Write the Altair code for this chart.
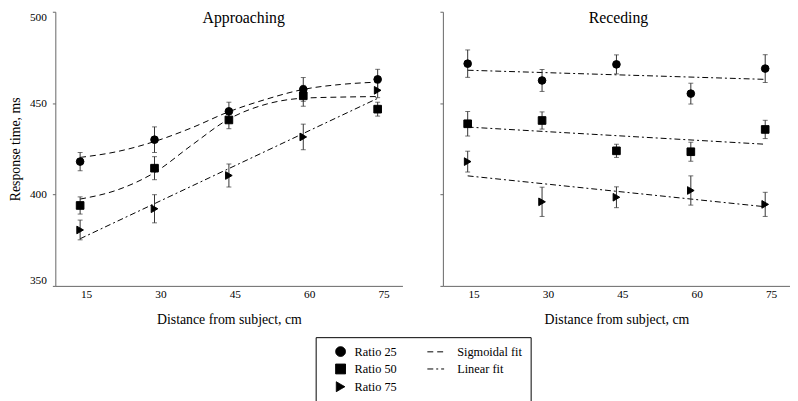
import altair as alt
import pandas as pd

# ---------------- data ----------------
distances = [15, 30, 45, 60, 75]
ratio_keys = ["Ratio 25", "Ratio 50", "Ratio 75"]
panel_titles = ["Approaching", "Receding"]

# Approaching: means and error half-widths (ms)
app_r25 = [418.0, 430.0, 445.5, 457.5, 463.0]
app_r25_err = [5.0, 7.0, 5.0, 6.5, 5.5]
app_r50 = [394.0, 414.4, 440.8, 454.0, 446.7]
app_r50_err = [4.7, 6.3, 4.8, 5.7, 3.8]
app_r75 = [380.6, 392.2, 410.4, 431.5, 457.0]
app_r75_err = [5.4, 7.7, 6.3, 7.0, 4.0]

# Receding
rec_r25 = [471.6, 462.4, 471.2, 455.2, 468.9]
rec_r25_err = [7.5, 6.0, 5.2, 5.7, 7.6]
rec_r50 = [438.7, 440.5, 423.9, 423.4, 435.6]
rec_r50_err = [6.7, 4.7, 3.6, 5.2, 5.0]
rec_r75 = [418.0, 396.0, 398.5, 402.2, 394.6]
rec_r75_err = [5.7, 8.0, 5.7, 8.0, 6.6]

# Fitted curves
sig_x = [15, 22.5, 30, 37.5, 45, 52.5, 60, 67.5, 75]
app_sig_r25 = [420.3, 423.5, 429.0, 436.5, 445.3, 452.1, 457.5, 460.2, 461.5]
app_sig_r50 = [397.5, 402.5, 412.0, 427.0, 441.3, 449.4, 452.7, 453.3, 453.6]
lin_x = [15, 75]
app_lin_r75 = [375.8, 452.6]
rec_lin_r25 = [468.0, 463.0]
rec_lin_r50 = [436.9, 427.5]
rec_lin_r75 = [410.2, 393.3]

fit_keys = ["Sigmoidal fit", "Linear fit"]
legend_order = ratio_keys + fit_keys

# ---------------- tables ----------------
pt_rows = []
for panel, series in [
    ("Approaching", [(app_r25, app_r25_err), (app_r50, app_r50_err), (app_r75, app_r75_err)]),
    ("Receding", [(rec_r25, rec_r25_err), (rec_r50, rec_r50_err), (rec_r75, rec_r75_err)]),
]:
    for key, (vals, errs) in zip(ratio_keys, series):
        for d, v, e in zip(distances, vals, errs):
            pt_rows.append({"panel": panel, "dist": d, "rt": v, "lo": v - e, "hi": v + e, "key": key})
pts = pd.DataFrame(pt_rows)

fit_rows = []
for panel, key, series, xs, ys in [
    ("Approaching", "Sigmoidal fit", "Ratio 25", sig_x, app_sig_r25),
    ("Approaching", "Sigmoidal fit", "Ratio 50", sig_x, app_sig_r50),
    ("Approaching", "Linear fit", "Ratio 75", lin_x, app_lin_r75),
    ("Receding", "Linear fit", "Ratio 25", lin_x, rec_lin_r25),
    ("Receding", "Linear fit", "Ratio 50", lin_x, rec_lin_r50),
    ("Receding", "Linear fit", "Ratio 75", lin_x, rec_lin_r75),
]:
    for xv, yv in zip(xs, ys):
        fit_rows.append({"panel": panel, "dist": xv, "rt": yv, "key": key, "series": series})
fits = pd.DataFrame(fit_rows)

FONT = "Liberation Serif"

shape_scale = alt.Scale(
    domain=legend_order,
    range=["circle", "square", "triangle-right", "M-3.2,0H0.2", "M-3.2,0H0.2"],
)
dash_scale = alt.Scale(domain=legend_order, range=[[1, 0], [1, 0], [1, 0], [6, 4], [6, 3, 2, 3]])
stroke_scale = alt.Scale(domain=legend_order, range=["black"] * 5)

legend_def = alt.Legend(
    title=None, orient="none", legendX=264, legendY=330, columns=2,
    strokeColor="black", fillColor="white", padding=8,
    symbolOffset=11, labelOffset=8, columnPadding=28, rowPadding=3,
    labelFont=FONT, labelFontSize=12.5, labelColor="black",
    symbolSize=100, symbolStrokeColor="black", symbolFillColor="black",
    symbolStrokeWidth=1,
)


def panel_chart(panel, first, title_x):
    p = pts[pts["panel"] == panel]
    f = fits[fits["panel"] == panel]
    x_axis = alt.Axis(
        values=distances, title="Distance from subject, cm", ticks=False, tickSize=0,
        labelOffset=6, labelPadding=3, titlePadding=13, grid=False, labelFlush=False,
        labelFontSize=11.5, titleFontSize=14,
    )
    if first:
        y_axis = alt.Axis(
            values=[350, 400, 450, 500], title="Response time, ms", tickSize=3,
            labelPadding=6, titlePadding=7, grid=False, labelFlush=True,
            labelFontSize=11.5, titleFontSize=14,
        )
    else:
        y_axis = alt.Axis(values=[350, 400, 450, 500], title=None, tickSize=3,
                          labels=False, grid=False)
    xs = alt.Scale(domain=[10, 80], nice=False, zero=False)
    ys = alt.Scale(domain=[350, 500], nice=False, zero=False)
    X = alt.X("dist:Q", scale=xs, axis=x_axis)
    S = alt.Stroke("key:N", scale=stroke_scale, legend=legend_def)

    lines = alt.Chart(f).mark_line(strokeWidth=1, interpolate="monotone").encode(
        x=X,
        y=alt.Y("rt:Q", scale=ys, axis=y_axis),
        stroke=S,
        strokeDash=alt.StrokeDash("key:N", scale=dash_scale, legend=legend_def),
        detail="series:N",
    )
    bars = alt.Chart(p).mark_rule(color="#333", strokeWidth=1).encode(
        x=X, y=alt.Y("lo:Q", scale=ys, axis=y_axis), y2="hi:Q"
    )
    caps = alt.Chart(p).transform_fold(["lo", "hi"], as_=["end", "cap"]).mark_tick(
        orient="horizontal", size=5, thickness=1, color="#333"
    ).encode(x=X, y=alt.Y("cap:Q", scale=ys, axis=y_axis))
    points = alt.Chart(p).mark_point(filled=True, color="black", strokeWidth=1,
                                     size=60, opacity=1).encode(
        x=X,
        y=alt.Y("rt:Q", scale=ys, axis=y_axis),
        shape=alt.Shape("key:N", scale=shape_scale, legend=legend_def),
        stroke=S,
    )
    title = alt.Chart(pd.DataFrame({"t": [panel]})).mark_text(
        font=FONT, fontSize=16, baseline="alphabetic", align="center", color="black", clip=True
    ).encode(x=alt.value(title_x), y=alt.value(11), text="t:N")
    return alt.layer(lines, bars, caps, points, title).properties(width=352, height=278)


left = panel_chart(panel_titles[0], True, 191)
right = panel_chart(panel_titles[1], False, 178)

chart = alt.hconcat(left, right, spacing=37).properties(
    padding={"left": 0, "top": 0, "right": 0, "bottom": 0}
).configure_view(stroke=None).configure_axis(
    labelFont=FONT, titleFont=FONT, labelColor="black", titleColor="black",
    titleFontWeight="normal", domainColor="#666", tickColor="#666",
).configure_legend(labelFont=FONT)

chart.save("out.html", embed_options={"renderer": "svg", "actions": False})
